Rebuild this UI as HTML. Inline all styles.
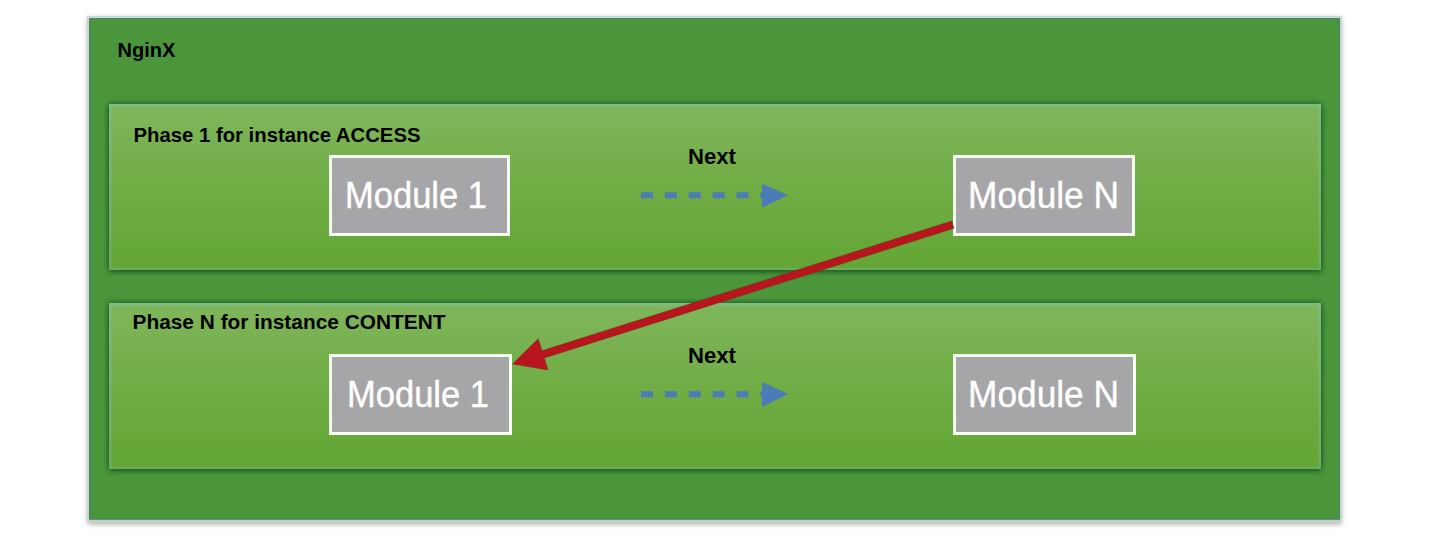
<!DOCTYPE html>
<html>
<head>
<meta charset="utf-8">
<style>
html,body{margin:0;padding:0;background:#ffffff;width:1429px;height:546px;overflow:hidden;}
svg{display:block;position:absolute;left:0;top:0;}
text{font-family:"Liberation Sans",sans-serif;}
</style>
</head>
<body>
<svg width="1429" height="546" viewBox="0 0 1429 546">
<defs>
  <linearGradient id="pg" x1="0" y1="0" x2="0" y2="1">
    <stop offset="0" stop-color="#80b65c"/>
    <stop offset="0.5" stop-color="#70ad45"/>
    <stop offset="1" stop-color="#63a535"/>
  </linearGradient>
  <linearGradient id="pb" x1="0" y1="0" x2="0" y2="1">
    <stop offset="0" stop-color="#7cbc8c" stop-opacity="0.85"/>
    <stop offset="1" stop-color="#78b08a" stop-opacity="0.45"/>
  </linearGradient>
  <filter id="osh" x="-5%" y="-5%" width="110%" height="110%">
    <feGaussianBlur stdDeviation="2.5"/>
  </filter>
  <filter id="psh" x="-5%" y="-20%" width="110%" height="140%">
    <feGaussianBlur stdDeviation="3"/>
  </filter>
</defs>

<!-- outer shadow -->
<rect x="87" y="17" width="1255" height="507" fill="#c4c2c8" opacity="0.8" filter="url(#osh)"/>
<rect x="89" y="21" width="1251" height="503" fill="#b4b4a4" opacity="0.8" filter="url(#osh)"/>
<rect x="87.75" y="16.75" width="1253.5" height="504.5" fill="none" stroke="#c4d8d4" stroke-width="1.5"/>
<!-- outer box -->
<rect x="89" y="18" width="1251" height="501.5" fill="#4b963b"/>
<rect x="89.75" y="18.75" width="1249.5" height="500" fill="none" stroke="#4d8565" stroke-width="1.5"/>

<text x="117.5" y="56.5" font-size="21" font-weight="bold" fill="#000" textLength="58" lengthAdjust="spacingAndGlyphs">NginX</text>

<!-- phase 1 -->
<rect x="109" y="104.5" width="1212" height="166.5" fill="#0f4018" opacity="1" filter="url(#psh)"/>
<rect x="109" y="104" width="1212" height="166" fill="url(#pg)"/>
<rect x="110.25" y="105.25" width="1209.5" height="163.5" fill="none" stroke="url(#pb)" stroke-width="2.5"/>
<text x="133.5" y="141.8" font-size="20.5" font-weight="bold" fill="#000" textLength="287" lengthAdjust="spacingAndGlyphs">Phase 1 for instance ACCESS</text>
<text x="688" y="163.8" font-size="22" font-weight="bold" fill="#000" textLength="48" lengthAdjust="spacingAndGlyphs">Next</text>

<!-- phase N -->
<rect x="109" y="303.5" width="1212" height="166.5" fill="#0f4018" opacity="1" filter="url(#psh)"/>
<rect x="109" y="303" width="1212" height="166" fill="url(#pg)"/>
<rect x="110.25" y="304.25" width="1209.5" height="163.5" fill="none" stroke="url(#pb)" stroke-width="2.5"/>
<text x="132.5" y="328.5" font-size="21" font-weight="bold" fill="#000" textLength="313" lengthAdjust="spacingAndGlyphs">Phase N for instance CONTENT</text>
<text x="688" y="362.7" font-size="22" font-weight="bold" fill="#000" textLength="48" lengthAdjust="spacingAndGlyphs">Next</text>

<!-- modules -->
<g fill="#a6a5a7" stroke="#f6fff2" stroke-width="3">
  <rect x="330.5" y="156.5" width="178" height="78"/>
  <rect x="954.5" y="156.5" width="179" height="78"/>
  <rect x="330.5" y="355.5" width="180" height="78"/>
  <rect x="954.5" y="355.5" width="180" height="78"/>
</g>
<g fill="#ffffff" font-size="36.5" stroke="#ffffff" stroke-width="0.4">
  <text x="345" y="207.8" textLength="142" lengthAdjust="spacingAndGlyphs">Module 1</text>
  <text x="968" y="208" textLength="151" lengthAdjust="spacingAndGlyphs">Module N</text>
  <text x="347" y="406.5" textLength="142" lengthAdjust="spacingAndGlyphs">Module 1</text>
  <text x="968" y="406.7" textLength="151" lengthAdjust="spacingAndGlyphs">Module N</text>
</g>

<!-- dashed arrows -->
<g stroke="#4a7cb8" stroke-width="6" stroke-dasharray="12 11.9">
  <line x1="641" y1="195.3" x2="762" y2="195.3"/>
  <line x1="641" y1="394.3" x2="762" y2="394.3"/>
</g>
<g fill="#4a7cb8">
  <path d="M762 183.8 L788.3 195.3 L762 207.5 Z"/>
  <path d="M762 382 L788.3 394 L762 406.9 Z"/>
</g>

<!-- red arrow -->
<path d="M512.6 364 L538.2 338.8 L541.95 350.73 L951.85 221.08 L953.8 228.3 L544.25 357.97 L548.0 369.9 Z" fill="#b8151f" stroke="#7a2a10" stroke-opacity="0.6" stroke-width="0.9" stroke-linejoin="miter"/>
</svg>
</body>
</html>
